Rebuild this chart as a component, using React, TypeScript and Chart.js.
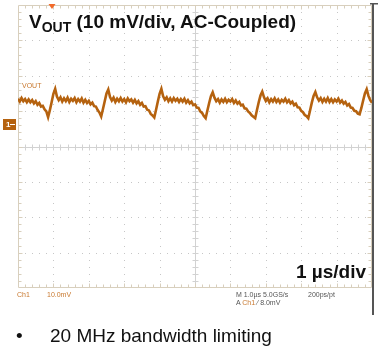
import React, { useEffect, useRef } from "react";
import { Chart, registerables } from "chart.js";

Chart.register(...registerables);

// Oscilloscope capture: VOUT ripple, 10 mV/div, 1 µs/div
const TIME_STEP_US = 0.05;
const X_MIN_US = 0;
const X_MAX_US = 10;
const Y_MIN_MV = -40;
const Y_MAX_MV = 40;
const X_DIVS = 10;
const Y_DIVS = 8;

const VOUT_MV = [
  13.5, 12.7, 13.7, 12.8, 13.4, 12.5, 13.3, 12.5, 13.1, 12.2,
  12.8, 11.8, 12.3, 11.3, 11.5, 10.5, 9.9, 8.3, 10.3, 12.5,
  14.9, 16.3, 14.1, 13.1, 13.9, 12.7, 13.6, 12.8, 13.8, 12.6,
  13.5, 12.9, 13.7, 12.5, 13.4, 12.7, 13.6, 12.4, 13.2, 12.3,
  12.9, 11.9, 12.4, 11.4, 11.3, 10.3, 9.6, 8.5, 10.6, 12.8,
  15.0, 16.1, 14.0, 13.0, 13.8, 12.6, 13.5, 12.8, 13.7, 12.7,
  13.4, 12.5, 13.6, 12.8, 13.3, 12.4, 13.2, 12.2, 12.8, 11.8,
  12.3, 11.3, 11.4, 10.4, 10.2, 9.2, 8.8, 8.2, 10.4, 12.7,
  14.9, 16.3, 14.2, 13.2, 13.9, 12.8, 13.6, 12.7, 13.7, 12.9,
  13.5, 12.6, 13.4, 12.7, 13.5, 12.4, 13.1, 12.2, 12.7, 11.7,
  11.9, 11.0, 10.9, 9.9, 9.5, 8.6, 8.0, 10.2, 12.3, 14.2,
  15.3, 13.8, 12.8, 13.4, 12.4, 13.3, 12.6, 13.5, 12.5, 13.2,
  12.7, 13.4, 12.3, 13.0, 12.1, 12.6, 11.6, 11.8, 10.8, 10.7,
  9.9, 9.5, 8.8, 8.4, 8.0, 10.3, 12.5, 14.4, 15.5, 13.9,
  12.9, 13.6, 12.5, 13.4, 12.7, 13.6, 12.6, 13.3, 12.4, 13.2,
  12.7, 13.5, 12.5, 13.1, 12.2, 12.7, 11.7, 12.1, 11.1, 11.0,
  10.1, 9.7, 8.9, 8.6, 8.0, 10.2, 12.4, 14.3, 15.4, 13.9,
  13.0, 13.7, 12.6, 13.5, 12.7, 13.7, 12.6, 13.4, 12.5, 13.3,
  12.7, 13.5, 12.4, 13.0, 12.1, 12.6, 11.6, 12.0, 11.0, 10.9,
  10.1, 10.0, 9.3, 9.1, 10.9, 13.0, 15.0, 16.2, 14.3, 13.1,
  12.4,
];

const TRACE_COLOR = "#b5620f";
const LABEL_ORANGE = "#c8782e";
const FONT = '"Liberation Sans", Arial, Helvetica, sans-serif';

const scopePlugin = {
  id: "scopeGrid",
  beforeDatasetsDraw(chart: any) {
    const { ctx, chartArea } = chart;
    const { left, right, top, bottom } = chartArea;
    const dx = (right - left) / X_DIVS;
    const dy = (bottom - top) / Y_DIVS;
    const cx = left + dx * (X_DIVS / 2);
    const cy = top + dy * (Y_DIVS / 2);
    ctx.save();
    // dotted division lines
    ctx.fillStyle = "#c6c6c6";
    for (let i = 1; i < X_DIVS; i++) {
      if (i === X_DIVS / 2) continue;
      const x = Math.round(left + i * dx);
      for (let k = 1; k < Y_DIVS * 5; k++) {
        const y = Math.round(top + (k * dy) / 5);
        ctx.fillRect(x, y, 1, 1);
      }
    }
    for (let j = 1; j < Y_DIVS; j++) {
      if (j === Y_DIVS / 2) continue;
      const y = Math.round(top + j * dy);
      for (let k = 1; k < X_DIVS * 5; k++) {
        const x = Math.round(left + (k * dx) / 5);
        ctx.fillRect(x, y, 1, 1);
      }
    }
    // center crosshair with minor ticks
    ctx.strokeStyle = "#d2d2d2";
    ctx.lineWidth = 1;
    ctx.beginPath();
    const cxr = Math.round(cx) + 0.5;
    const cyr = Math.round(cy) + 0.5;
    ctx.moveTo(cxr, top);
    ctx.lineTo(cxr, bottom);
    ctx.moveTo(left, cyr);
    ctx.lineTo(right, cyr);
    for (let k = 1; k < X_DIVS * 5; k++) {
      const x = Math.round(left + (k * dx) / 5) + 0.5;
      ctx.moveTo(x, cyr - 3);
      ctx.lineTo(x, cyr + 3);
    }
    for (let k = 1; k < Y_DIVS * 5; k++) {
      const y = Math.round(top + (k * dy) / 5) + 0.5;
      ctx.moveTo(cxr - 3, y);
      ctx.lineTo(cxr + 3, y);
    }
    ctx.stroke();
    // border with inward ticks
    ctx.strokeStyle = "#d8cfbd";
    ctx.beginPath();
    const l = Math.round(left) + 0.5;
    const r = Math.round(right) - 0.5;
    const t = Math.round(top) + 0.5;
    const b = Math.round(bottom) - 0.5;
    ctx.rect(l, t, r - l, b - t);
    for (let k = 1; k < X_DIVS * 5; k++) {
      const x = Math.round(left + (k * dx) / 5) + 0.5;
      const len = k % 5 === 0 ? 4 : 3;
      ctx.moveTo(x, t);
      ctx.lineTo(x, t + len);
      ctx.moveTo(x, b);
      ctx.lineTo(x, b - len);
    }
    for (let k = 1; k < Y_DIVS * 5; k++) {
      const y = Math.round(top + (k * dy) / 5) + 0.5;
      const len = k % 5 === 0 ? 4 : 3;
      ctx.moveTo(l, y);
      ctx.lineTo(l + len, y);
      ctx.moveTo(r, y);
      ctx.lineTo(r - len, y);
    }
    ctx.stroke();
    ctx.restore();
  },
  afterDraw(chart: any) {
    const { ctx, chartArea } = chart;
    const { right, top } = chartArea;
    ctx.save();
    // trigger position marker
    const tx = chart.scales.x.getPixelForValue(0.96);
    ctx.fillStyle = "#f26a2a";
    ctx.beginPath();
    ctx.moveTo(tx - 3.5, top - 1);
    ctx.lineTo(tx + 3.5, top - 1);
    ctx.lineTo(tx, top + 4);
    ctx.closePath();
    ctx.fill();
    // dark right edge
    ctx.fillStyle = "#555555";
    ctx.fillRect(Math.round(right), top - 2, 2, 312);
    ctx.fillRect(Math.round(right) - 2, top - 2, 8, 1.5);
    // channel ground marker box
    ctx.fillStyle = TRACE_COLOR;
    ctx.fillRect(3, 119, 13, 11);
    ctx.strokeStyle = "#ffffff";
    ctx.lineWidth = 1;
    ctx.beginPath();
    ctx.moveTo(10, 124.5);
    ctx.lineTo(15, 124.5);
    ctx.stroke();
    ctx.restore();
  },
};

export default function App() {
  const canvasRef = useRef<HTMLCanvasElement | null>(null);

  useEffect(() => {
    const canvas = canvasRef.current;
    if (!canvas) return;
    const points = VOUT_MV.map((v, i) => ({ x: X_MIN_US + i * TIME_STEP_US, y: v }));
    const chart = new Chart(canvas, {
      type: "line",
      data: {
        datasets: [
          {
            label: "VOUT",
            data: points,
            borderColor: TRACE_COLOR,
            borderWidth: 2.6,
            pointRadius: 0,
            tension: 0,
          },
        ],
      },
      options: {
        responsive: false,
        animation: false,
        devicePixelRatio: 1,
        layout: { padding: { left: 18, right: 10, top: 5, bottom: 66 } },
        plugins: { legend: { display: false }, tooltip: { enabled: false } },
        scales: {
          x: { type: "linear", min: X_MIN_US, max: X_MAX_US, display: false },
          y: { type: "linear", min: Y_MIN_MV, max: Y_MAX_MV, display: false },
        },
      },
      plugins: [scopePlugin],
    });
    return () => chart.destroy();
  }, []);

  const abs: React.CSSProperties = {
    position: "absolute",
    fontFamily: FONT,
    whiteSpace: "nowrap",
    margin: 0,
  };
  const small: React.CSSProperties = { ...abs, fontSize: 7, lineHeight: "7px" };

  return (
    <div
      style={{
        position: "fixed",
        left: 0,
        top: 0,
        width: 382,
        height: 354,
        background: "#ffffff",
        overflow: "hidden",
      }}
    >
      <canvas ref={canvasRef} width={382} height={354} style={{ display: "block" }} />
      <div style={{ ...abs, left: 29, top: 12, fontSize: 19, lineHeight: "19px", fontWeight: 700, color: "#111" }}>
        V<span style={{ fontSize: 14, position: "relative", top: 4 }}>OUT</span> (10 mV/div, AC-Coupled)
      </div>
      <div style={{ ...small, left: 22, top: 82, color: LABEL_ORANGE }}>VOUT</div>
      <div style={{ ...abs, left: 6, top: 121, fontSize: 8, lineHeight: "8px", color: "#fff", fontWeight: 700 }}>1</div>
      <div style={{ ...abs, right: 16, top: 262, fontSize: 19, lineHeight: "19px", fontWeight: 700, color: "#111" }}>
        1 µs/div
      </div>
      <div style={{ ...small, left: 17, top: 291, color: LABEL_ORANGE }}>Ch1</div>
      <div style={{ ...small, left: 47, top: 291, color: LABEL_ORANGE }}>10.0mV</div>
      <div style={{ ...small, left: 236, top: 291, color: "#555" }}>M 1.0µs 5.0GS/s</div>
      <div style={{ ...small, left: 308, top: 291, color: "#555" }}>200ps/pt</div>
      <div style={{ ...small, left: 236, top: 299, color: "#555" }}>
        A <span style={{ color: LABEL_ORANGE }}>Ch1</span> ⁄ 8.0mV
      </div>
      <div style={{ ...abs, left: 16, top: 326, fontSize: 19, lineHeight: "19px", color: "#111" }}>•</div>
      <div style={{ ...abs, left: 50, top: 326, fontSize: 19, lineHeight: "19px", color: "#111" }}>
        20 MHz bandwidth limiting
      </div>
    </div>
  );
}
